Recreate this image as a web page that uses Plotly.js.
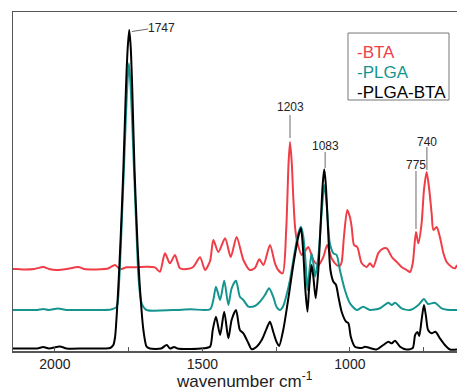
<!DOCTYPE html>
<html>
<head>
<meta charset="utf-8">
<script src="https://cdn.plot.ly/plotly-3.0.1.min.js"></script>
<style>html,body{margin:0;padding:0;overflow:hidden;background:#fff}</style>
</head>
<body>
<div id="chart" style="width:457px;height:392px"></div>
<script>
// Wavenumber (cm^-1) and offset intensity (a.u.)
const wnBTA = [2142,2129,2100,2070,2039,2020,1994,1960,1921,1900,1870,1847,1820,1796,1779,1757,1723,1689,1661,1644,1627,1610,1593,1576,1553,1531,1508,1491,1474,1463,1446,1423,1404,1384,1361,1339,1322,1307,1293,1271,1254,1243,1228,1216,1208,1203,1197,1192,1186,1180,1163,1152,1141,1124,1107,1090,1077,1062,1045,1034,1028,1020,1009,1000,994,986,975,960,943,932,921,904,892,875,858,841,825,808,796,787,776,768,757,749,740,732,723,717,706,695,683,672,655,644,637];
const absBTA = [82,82,81.5,82,84,82,81,82,84,82,81.5,81.7,82.5,86,81.7,83.7,83.7,84.3,83.7,79.3,97.7,87.7,96,82.7,82,84,93.7,81,90,111,99,112.7,94,114,91,81,83,91.7,86,106,87.7,81,77.7,121,187.7,209,187.7,154,124,111,96,100,104,91,86,94,106,92.7,86,85,88.7,115,141,134,124,106,104,87.7,84,87.7,84,97.7,101.7,102.7,94,89,84,81,79,87.7,119,107.7,127.7,161,179,164,137.7,121,124,114,97.7,89,84,82.7,86];

const wnPLGA = [2142,2100,2060,2039,2020,1990,1960,1900,1840,1810,1791,1782,1773,1764,1756,1749,1742,1734,1725,1716,1706,1689,1600,1540,1474,1463,1454,1440,1426,1412,1401,1386,1373,1361,1344,1322,1305,1288,1274,1260,1249,1237,1226,1214,1203,1186,1175,1166,1158,1150,1144,1138,1130,1124,1118,1107,1096,1087,1079,1068,1056,1045,1034,1017,1000,977,955,932,898,870,858,847,825,796,768,749,735,712,689,661,637];
const absPLGA = [41,41,41,42,41,42.5,41,41,41,41.5,44,71,131,197.7,257.7,287.7,257.7,197.7,131,71,47.7,41,41,41.7,41.7,51,64.3,51,70.3,46,62.7,70.3,54.3,51,44.3,45,49.3,56,62.7,54.3,44.3,41,45,57,71,101,117.7,124.3,114.3,87.7,61,77.7,97.7,87.7,74.3,94.3,137.7,166,147.7,107.7,97.7,96,81,61,47.7,41,44.3,41,42.7,48.3,46,48.3,42.7,41,46,52,47,48.3,42.7,41,41];

const wnMix = [2142,2100,2060,2039,2020,1983,1960,1900,1830,1813,1802,1796,1785,1777,1768,1759,1753,1748,1743,1738,1730,1721,1712,1700,1689,1678,1640,1621,1610,1596,1585,1540,1497,1474,1465,1454,1440,1426,1412,1401,1386,1373,1361,1344,1333,1316,1299,1282,1271,1260,1249,1240,1226,1209,1192,1175,1166,1158,1151,1144,1138,1130,1124,1116,1107,1099,1092,1087,1082,1074,1066,1056,1047,1039,1028,1013,1005,997,983,960,949,932,910,887,870,858,847,830,808,787,779,771,765,757,749,742,735,723,710,695,678,661,637];
const absMix = [2.5,2.5,2.5,4,2.5,4.5,2.5,2.5,2.5,3,6,14,64,114,181,264,304,321,304,264,181,114,64,21,4.3,2.5,2.5,6,2.5,4,2.5,2,2.7,4.3,21,34.3,16,39.3,12.7,31,41,21,17.7,7.7,1.7,4.3,11,22.7,29.3,19.3,9.3,5,21,52,86,114.3,122.7,97.7,61,39.3,64.3,86,74.3,52.7,81,127.7,167.7,181.7,167.7,121,81,69.3,66,54.3,39.3,29.3,27.7,14.3,4.3,3,4.3,3,1.5,6,9.3,7.7,10.3,4.3,1.5,3,16,19,15,31,46,34.3,21,17.7,19.3,12.7,6,1.5,1.5];

const seriesNames = ["-BTA", "-PLGA", "-PLGA-BTA"];
const seriesColors = ["#ef3e47", "#16958f", "#000000"];
const peakLabels = ["1747", "1203", "1083", "775", "740"];

const FONT = "Liberation Sans, Arial, Helvetica, sans-serif";

function tr(x, y, c) {
  return {x: x, y: y, type: "scatter", mode: "lines",
    line: {color: c, width: 2, shape: "spline", smoothing: 0.7},
    showlegend: false, hoverinfo: "skip"};
}
const data = [
  tr(wnBTA, absBTA, seriesColors[0]),
  tr(wnPLGA, absPLGA, seriesColors[1]),
  tr(wnMix, absMix, seriesColors[2])
];

const gray = "#6a6a6a";
function lbl(x, y, t) {
  return {xref: "x", yref: "y", x: x, y: y, text: t, showarrow: false,
    font: {family: FONT, size: 12, color: "#222"}, xanchor: "center", yanchor: "middle"};
}
function seg(x0, y0, x1, y1) {
  return {type: "line", xref: "x", yref: "y", x0: x0, y0: y0, x1: x1, y1: y1,
    line: {color: gray, width: 1}};
}
function leg(i, y) {
  return {xref: "paper", yref: "paper", x: 0.770, y: y, text: seriesNames[i], showarrow: false,
    xanchor: "left", yanchor: "middle", font: {family: FONT, size: 17, color: seriesColors[i]}};
}

const layout = {
  width: 457, height: 392,
  margin: {l: 13, r: 0, t: 12, b: 41},
  paper_bgcolor: "#fff", plot_bgcolor: "#fff",
  font: {family: FONT, color: "#222"},
  xaxis: {
    range: [2142, 637], showgrid: false, zeroline: false,
    showline: true, mirror: true, linecolor: "#555", linewidth: 1.5,
    tickmode: "array", tickvals: [2000, 1500, 1000], ticktext: ["2000", "1500", "1000"],
    ticks: "inside", ticklen: 4, tickcolor: "#555", tickwidth: 1,
    minor: {tickvals: [1750, 1250, 750], ticks: "inside", ticklen: 4, tickcolor: "#555", tickwidth: 1},
    tickfont: {family: FONT, size: 14, color: "#222"}
  },
  yaxis: {
    range: [0, 339], showgrid: false, zeroline: false,
    showline: true, mirror: false, linecolor: "#555", linewidth: 1.5,
    showticklabels: false, ticks: ""
  },
  shapes: [
    seg(1739, 319.5, 1684, 322),
    seg(1203, 236, 1203, 213),
    seg(1084, 199, 1084, 183),
    seg(739, 204, 739, 181),
    seg(776, 180, 776, 122),
    {type: "rect", xref: "paper", yref: "paper", x0: 0.7545, x1: 0.982, y0: 0.7404, y1: 0.938,
     line: {color: "#777", width: 1}, fillcolor: "rgba(0,0,0,0)"}
  ],
  annotations: [
    lbl(1637, 323, peakLabels[0]),
    lbl(1203, 244, peakLabels[1]),
    lbl(1084, 205, peakLabels[2]),
    lbl(776, 186, peakLabels[3]),
    lbl(739, 209, peakLabels[4]),
    leg(0, 0.882), leg(1, 0.823), leg(2, 0.764),
    {xref: "paper", yref: "paper", x: 0.5225, y: -0.086, showarrow: false,
     text: "wavenumber cm<sup>-1</sup>", xanchor: "center", yanchor: "middle",
     font: {family: FONT, size: 17, color: "#222"}}
  ]
};

Plotly.newPlot("chart", data, layout, {displayModeBar: false, staticPlot: true});
</script>
</body>
</html>
